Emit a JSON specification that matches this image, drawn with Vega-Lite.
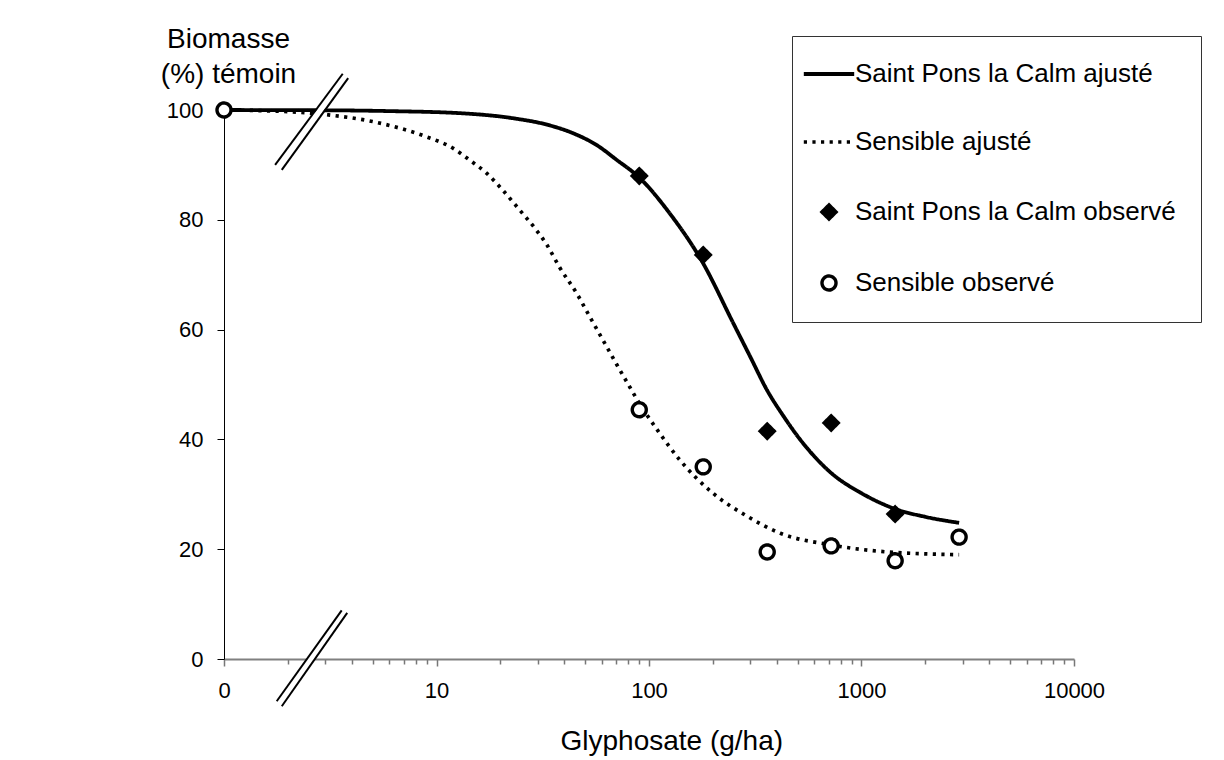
{
  "$schema": "https://vega.github.io/schema/vega-lite/v6.json",
  "width": 850,
  "height": 549,
  "autosize": {"type": "none"},
  "padding": {"left": 224, "top": 110, "right": 150, "bottom": 101},
  "background": "white",
  "config": {
    "view": {"stroke": null},
    "font": "Liberation Sans",
    "axis": {"grid": false, "labelFont": "Liberation Sans", "titleFont": "Liberation Sans", "labelColor": "black", "titleColor": "black", "titleFontWeight": "normal"},
    "legend": {
      "orient": "none",
      "legendX": 568,
      "legendY": -74,
      "padding": 25,
      "strokeColor": "#333333",
      "fillColor": "white",
      "labelFont": "Liberation Sans",
      "labelFontSize": 26,
      "labelColor": "black",
      "labelLimit": 500,
      "labelOffset": 13,
      "rowPadding": 42,
      "symbolOffset": -1,
      "symbolOpacity": 1
    }
  },
  "datasets": {
    "curves": [
      {"serie": "Saint Pons la Calm ajusté", "dose": 1, "biomasse": 100},
      {"serie": "Saint Pons la Calm ajusté", "dose": 3, "biomasse": 99.95},
      {"serie": "Saint Pons la Calm ajusté", "dose": 6, "biomasse": 99.8},
      {"serie": "Saint Pons la Calm ajusté", "dose": 13.2, "biomasse": 99.4},
      {"serie": "Saint Pons la Calm ajusté", "dose": 22.9, "biomasse": 98.5},
      {"serie": "Saint Pons la Calm ajusté", "dose": 34.1, "biomasse": 97.2},
      {"serie": "Saint Pons la Calm ajusté", "dose": 45, "biomasse": 95.6},
      {"serie": "Saint Pons la Calm ajusté", "dose": 56.8, "biomasse": 93.6},
      {"serie": "Saint Pons la Calm ajusté", "dose": 70, "biomasse": 91},
      {"serie": "Saint Pons la Calm ajusté", "dose": 90.5, "biomasse": 87.6},
      {"serie": "Saint Pons la Calm ajusté", "dose": 125, "biomasse": 81.2},
      {"serie": "Saint Pons la Calm ajusté", "dose": 179, "biomasse": 72.2},
      {"serie": "Saint Pons la Calm ajusté", "dose": 249, "biomasse": 61.2},
      {"serie": "Saint Pons la Calm ajusté", "dose": 300, "biomasse": 55},
      {"serie": "Saint Pons la Calm ajusté", "dose": 359, "biomasse": 49},
      {"serie": "Saint Pons la Calm ajusté", "dose": 430, "biomasse": 44.2},
      {"serie": "Saint Pons la Calm ajusté", "dose": 500, "biomasse": 40.6},
      {"serie": "Saint Pons la Calm ajusté", "dose": 600, "biomasse": 36.9},
      {"serie": "Saint Pons la Calm ajusté", "dose": 719, "biomasse": 33.9},
      {"serie": "Saint Pons la Calm ajusté", "dose": 1000, "biomasse": 30.2},
      {"serie": "Saint Pons la Calm ajusté", "dose": 1448, "biomasse": 27.3},
      {"serie": "Saint Pons la Calm ajusté", "dose": 1995, "biomasse": 25.9},
      {"serie": "Saint Pons la Calm ajusté", "dose": 2880, "biomasse": 24.8},
      {"serie": "Sensible ajusté", "dose": 1, "biomasse": 100},
      {"serie": "Sensible ajusté", "dose": 2, "biomasse": 99.7},
      {"serie": "Sensible ajusté", "dose": 3.1, "biomasse": 99.1},
      {"serie": "Sensible ajusté", "dose": 5, "biomasse": 97.9},
      {"serie": "Sensible ajusté", "dose": 6.7, "biomasse": 96.7},
      {"serie": "Sensible ajusté", "dose": 9, "biomasse": 95.1},
      {"serie": "Sensible ajusté", "dose": 12, "biomasse": 93},
      {"serie": "Sensible ajusté", "dose": 14.3, "biomasse": 90.9},
      {"serie": "Sensible ajusté", "dose": 17.2, "biomasse": 88.5},
      {"serie": "Sensible ajusté", "dose": 20.5, "biomasse": 85.4},
      {"serie": "Sensible ajusté", "dose": 24.6, "biomasse": 81.8},
      {"serie": "Sensible ajusté", "dose": 29, "biomasse": 78.5},
      {"serie": "Sensible ajusté", "dose": 33, "biomasse": 75.5},
      {"serie": "Sensible ajusté", "dose": 38, "biomasse": 71.3},
      {"serie": "Sensible ajusté", "dose": 45.7, "biomasse": 66.6},
      {"serie": "Sensible ajusté", "dose": 52.7, "biomasse": 62.3},
      {"serie": "Sensible ajusté", "dose": 60.7, "biomasse": 58.1},
      {"serie": "Sensible ajusté", "dose": 70.6, "biomasse": 53.6},
      {"serie": "Sensible ajusté", "dose": 81.3, "biomasse": 49.5},
      {"serie": "Sensible ajusté", "dose": 88.7, "biomasse": 47},
      {"serie": "Sensible ajusté", "dose": 110, "biomasse": 41.6},
      {"serie": "Sensible ajusté", "dose": 140, "biomasse": 36.2},
      {"serie": "Sensible ajusté", "dose": 200, "biomasse": 30.2},
      {"serie": "Sensible ajusté", "dose": 290, "biomasse": 26},
      {"serie": "Sensible ajusté", "dose": 415, "biomasse": 22.9},
      {"serie": "Sensible ajusté", "dose": 714, "biomasse": 20.8},
      {"serie": "Sensible ajusté", "dose": 1230, "biomasse": 19.6},
      {"serie": "Sensible ajusté", "dose": 2880, "biomasse": 19}
    ],
    "observed": [
      {"serie": "Saint Pons la Calm observé", "dose": 90, "biomasse": 88},
      {"serie": "Saint Pons la Calm observé", "dose": 180, "biomasse": 73.6},
      {"serie": "Saint Pons la Calm observé", "dose": 360, "biomasse": 41.5},
      {"serie": "Saint Pons la Calm observé", "dose": 720, "biomasse": 43},
      {"serie": "Saint Pons la Calm observé", "dose": 1440, "biomasse": 26.4},
      {"serie": "Sensible observé", "dose": 1, "biomasse": 100},
      {"serie": "Sensible observé", "dose": 90, "biomasse": 45.4},
      {"serie": "Sensible observé", "dose": 180, "biomasse": 35},
      {"serie": "Sensible observé", "dose": 360, "biomasse": 19.5},
      {"serie": "Sensible observé", "dose": 720, "biomasse": 20.6},
      {"serie": "Sensible observé", "dose": 1440, "biomasse": 17.9},
      {"serie": "Sensible observé", "dose": 2880, "biomasse": 22.2}
    ],
    "breakBand": [
      {"x": 1.80, "x2": 3.72, "y": 89.5, "y2": 106.2},
      {"x": 1.82, "x2": 3.69, "y": -8.1, "y2": 8.6}
    ],
    "breakLines": [
      {"x": 1.74, "x2": 3.62, "y": 90.0, "y2": 106.6},
      {"x": 1.87, "x2": 3.84, "y": 89.1, "y2": 105.8},
      {"x": 1.77, "x2": 3.58, "y": -7.7, "y2": 8.85},
      {"x": 1.87, "x2": 3.80, "y": -8.6, "y2": 8.4}
    ]
  },
  "layer": [
    {
      "data": {"name": "curves"},
      "mark": {"type": "line", "interpolate": "monotone", "strokeCap": "butt", "color": "black", "stroke": "black"},
      "encoding": {
        "x": {
          "field": "dose", "type": "quantitative",
          "scale": {"type": "log", "domain": [1, 10000]},
          "axis": {
            "title": "Glyphosate (g/ha)",
            "values": [1,2,3,4,5,6,7,8,9,10,20,30,40,50,60,70,80,90,100,200,300,400,500,600,700,800,900,1000,2000,3000,4000,5000,6000,7000,8000,9000,10000],
            "labelExpr": "datum.value === 1 ? '0' : (indexof([10,100,1000,10000], datum.value) >= 0 ? format(datum.value, 'd') : '')",
            "labelOverlap": false,
            "labelFontSize": 22,
            "labelPadding": 14,
            "labelFlush": false,
            "tickSize": {"condition": {"test": "indexof([1,10,100,1000,10000], datum.value) >= 0", "value": 7}, "value": 5},
            "tickColor": "#777777",
            "tickWidth": 1.5,
            "domainColor": "#808080",
            "domainWidth": 2,
            "titleFontSize": 28,
            "titleAlign": "left",
            "titleAnchor": "start",
            "titleX": 336,
            "titleY": 90,
            "titleBaseline": "alphabetic"
          }
        },
        "y": {
          "field": "biomasse", "type": "quantitative",
          "scale": {"domain": [0, 100]},
          "axis": {
            "title": ["Biomasse", "(%) témoin"],
            "values": [0, 20, 40, 60, 80, 100],
            "labelFontSize": 22,
            "labelPadding": 14,
            "tickSize": 7,
            "tickColor": "black",
            "domainColor": "black",
            "domainWidth": 1,
            "titleFontSize": 28,
            "titleAngle": 0,
            "titleAlign": "center",
            "titleBaseline": "alphabetic",
            "titleX": 4,
            "titleY": -63,
            "titleLineHeight": 35
          }
        },
        "detail": {"field": "serie"},
        "strokeDash": {
          "field": "serie", "type": "nominal",
          "scale": {"domain": ["Saint Pons la Calm ajusté", "Sensible ajusté", "Saint Pons la Calm observé", "Sensible observé"], "range": [[1, 0], [3.2, 5.4], [1, 0], [1, 0]]},
          "legend": {"title": null}
        },
        "strokeWidth": {
          "field": "serie", "type": "nominal",
          "scale": {"domain": ["Saint Pons la Calm ajusté", "Sensible ajusté", "Saint Pons la Calm observé", "Sensible observé"], "range": [3.8, 3.4, 1, 1.7]},
          "legend": {"title": null}
        }
      }
    },
    {
      "data": {"name": "breakBand"},
      "mark": {"type": "rule", "color": "white", "strokeWidth": 6},
      "encoding": {
        "x": {"field": "x", "type": "quantitative"},
        "x2": {"field": "x2"},
        "y": {"field": "y", "type": "quantitative"},
        "y2": {"field": "y2"}
      }
    },
    {
      "data": {"name": "breakLines"},
      "mark": {"type": "rule", "color": "black", "strokeWidth": 2},
      "encoding": {
        "x": {"field": "x", "type": "quantitative"},
        "x2": {"field": "x2"},
        "y": {"field": "y", "type": "quantitative"},
        "y2": {"field": "y2"}
      }
    },
    {
      "data": {"name": "observed"},
      "mark": {"type": "point", "filled": true, "stroke": "black", "opacity": 1},
      "encoding": {
        "x": {"field": "dose", "type": "quantitative"},
        "y": {"field": "biomasse", "type": "quantitative"},
        "shape": {
          "field": "serie", "type": "nominal",
          "scale": {
            "domain": ["Saint Pons la Calm ajusté", "Sensible ajusté", "Saint Pons la Calm observé", "Sensible observé"],
            "range": ["M-3.6,0H3.6", "M-3.6,0H3.6", "diamond", "circle"]
          },
          "legend": {"title": null}
        },
        "fill": {
          "field": "serie", "type": "nominal",
          "scale": {"domain": ["Saint Pons la Calm ajusté", "Sensible ajusté", "Saint Pons la Calm observé", "Sensible observé"], "range": ["transparent", "transparent", "black", "white"]},
          "legend": {"title": null}
        },
        "size": {
          "field": "serie", "type": "nominal",
          "scale": {"domain": ["Saint Pons la Calm ajusté", "Sensible ajusté", "Saint Pons la Calm observé", "Sensible observé"], "range": [196, 196, 300, 215]},
          "legend": {"title": null}
        },
        "strokeDash": {
          "field": "serie", "type": "nominal",
          "legend": {"title": null}
        },
        "strokeWidth": {
          "field": "serie", "type": "nominal",
          "legend": {"title": null}
        }
      }
    }
  ]
}
